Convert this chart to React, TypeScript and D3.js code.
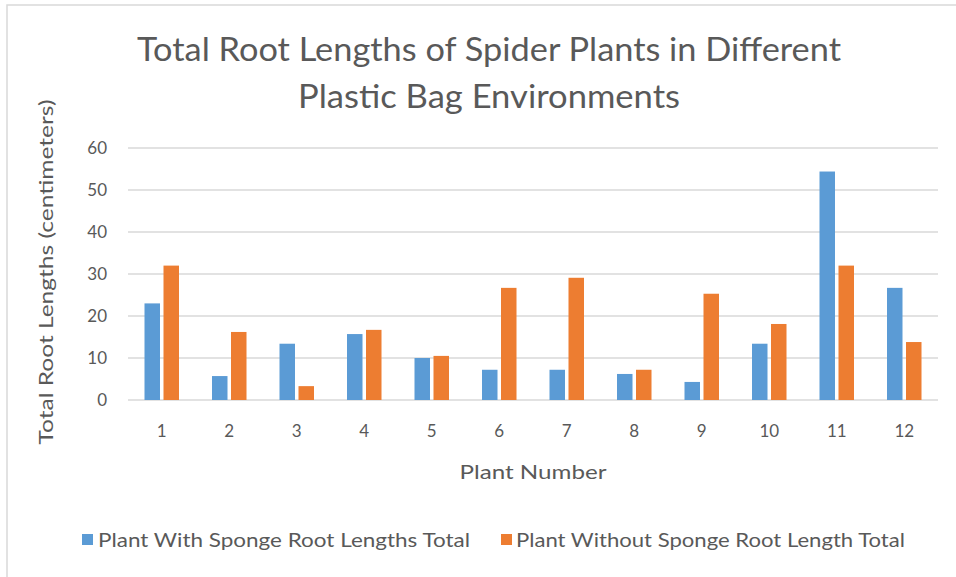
import React from "react";
import * as d3 from "d3";

const categories = ["1", "2", "3", "4", "5", "6", "7", "8", "9", "10", "11", "12"];
const withSponge = [23, 5.7, 13.4, 15.7, 10, 7.2, 7.2, 6.2, 4.3, 13.4, 54.4, 26.7];
const withoutSponge = [32, 16.2, 3.3, 16.7, 10.5, 26.7, 29.1, 7.2, 25.3, 18.1, 32, 13.8];
const seriesNames = ["Plant With Sponge Root Lengths Total", "Plant Without Sponge Root Length Total"];
const yTicks = [0, 10, 20, 30, 40, 50, 60];
const titleLines = ["Total Root Lengths of Spider Plants in Different", "Plastic Bag Environments"];

const W = 956;
const H = 577;
const left = 128;
const right = 938;
const top = 148;
const bottom = 400;
const colors = ["#5B9BD5", "#ED7D31"];
const textColor = "#595959";
const font = "Lato, 'Open Sans', sans-serif";

export default function App() {
  const x = d3.scaleBand<string>().domain(categories).range([left, right]);
  const y = d3.scaleLinear().domain([0, 60]).range([bottom, top]);
  const barW = 15.5;
  const gap = 3.5;
  const series = [withSponge, withoutSponge];
  const titleLens = [704, 382];

  return (
    <svg width={W} height={H} style={{ position: "absolute", left: 0, top: 0, background: "#fff" }}>
      <rect x={7} y={5} width={W} height={H} fill="#fff" stroke="#d9d9d9" strokeWidth={1.5} />
      {titleLines.map((t, i) => (
        <text
          key={i}
          x={489}
          y={61 + i * 47}
          textAnchor="middle"
          fontFamily={font}
          fontSize={32}
          fill={textColor}
          textLength={titleLens[i]}
          lengthAdjust="spacingAndGlyphs"
        >
          {t}
        </text>
      ))}
      {yTicks.map((t) => (
        <g key={t}>
          <line x1={left} x2={right} y1={y(t)} y2={y(t)} stroke="#d9d9d9" strokeWidth={1.3} />
          <text x={107} y={y(t) + 6} textAnchor="end" fontFamily={font} fontSize={17} fill={textColor}>
            {t}
          </text>
        </g>
      ))}
      {series.map((vals, si) =>
        vals.map((v, i) => {
          const c = (x(categories[i]) as number) + x.bandwidth() / 2;
          const bx = si === 0 ? c - gap / 2 - barW : c + gap / 2;
          return <rect key={si + "-" + i} x={bx} y={y(v)} width={barW} height={y(0) - y(v)} fill={colors[si]} />;
        })
      )}
      {categories.map((c) => (
        <text key={c} x={(x(c) as number) + x.bandwidth() / 2} y={437} textAnchor="middle" fontFamily={font} fontSize={17} fill={textColor}>
          {c}
        </text>
      ))}
      <text
        x={(left + right) / 2}
        y={479}
        textAnchor="middle"
        fontFamily={font}
        fontSize={19}
        fill={textColor}
        textLength={147}
        lengthAdjust="spacingAndGlyphs"
      >
        Plant Number
      </text>
      <text
        transform={`translate(53, 272) rotate(-90)`}
        textAnchor="middle"
        fontFamily={font}
        fontSize={19}
        fill={textColor}
        textLength={345}
        lengthAdjust="spacingAndGlyphs"
      >
        Total Root Lengths (centimeters)
      </text>
      <rect x={82} y={534} width={11} height={11} fill={colors[0]} />
      <text x={98} y={547} fontFamily={font} fontSize={19} fill={textColor} textLength={372} lengthAdjust="spacingAndGlyphs">
        {seriesNames[0]}
      </text>
      <rect x={501} y={534} width={11} height={11} fill={colors[1]} />
      <text x={516} y={547} fontFamily={font} fontSize={19} fill={textColor} textLength={389} lengthAdjust="spacingAndGlyphs">
        {seriesNames[1]}
      </text>
    </svg>
  );
}
